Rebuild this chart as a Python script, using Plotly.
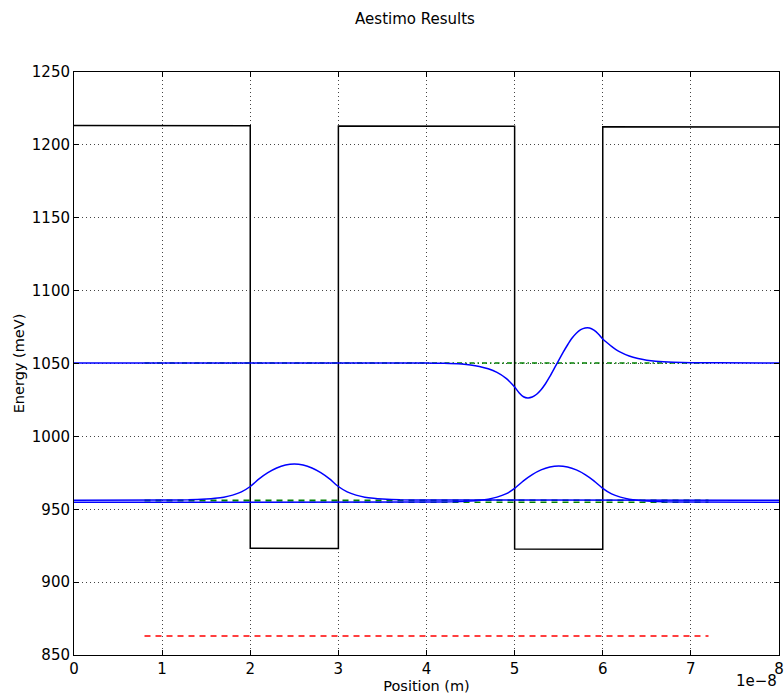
import plotly.graph_objects as go

# ---- data (positions in units of 1e-8 m, energies in meV) ----
pot_x = [0, 2, 2, 3, 3, 5, 5, 6, 6, 8]
pot_v = [1213.3, 1213.1, 923.2, 923.0, 1213.0, 1212.8, 922.7, 922.5, 1212.5, 1212.3]

wf1_x = [0, 1.0, 1.3, 1.5, 1.6, 1.7, 1.8, 1.9, 2.0, 2.1, 2.2, 2.3, 2.4, 2.5,
         2.6, 2.7, 2.8, 2.9, 3.0, 3.1, 3.2, 3.3, 3.4, 3.5, 3.7, 4.0, 8.0]
wf1_e = [956.2, 956.3, 956.5, 957.0, 957.5, 958.3, 959.7, 961.9, 965.6, 970.8,
         975.1, 978.3, 980.3, 981.0, 980.3, 978.3, 975.1, 970.8, 965.6, 961.9,
         959.7, 958.3, 957.5, 957.0, 956.5, 956.3, 956.2]

wf2_x = [0, 4.0, 4.3, 4.5, 4.6, 4.7, 4.8, 4.9, 5.0, 5.1, 5.2, 5.3, 5.4, 5.5,
         5.6, 5.7, 5.8, 5.9, 6.0, 6.1, 6.2, 6.3, 6.4, 6.5, 6.7, 7.0, 8.0]
wf2_e = [954.8, 954.9, 955.1, 955.6, 956.1, 956.9, 958.3, 960.5, 964.3, 969.5,
         973.8, 977.0, 979.0, 979.7, 979.0, 977.0, 973.8, 969.5, 964.3, 960.5,
         958.3, 956.9, 956.1, 955.6, 955.1, 954.9, 954.8]

wf3_x = [0, 4.0, 4.2, 4.4, 4.5, 4.6, 4.7, 4.8, 4.9, 4.95, 5.0, 5.05, 5.1, 5.15,
         5.2, 5.25, 5.3, 5.35, 5.4, 5.45, 5.5, 5.55, 5.6, 5.65, 5.7, 5.75, 5.8,
         5.85, 5.9, 5.95, 6.0, 6.05, 6.1, 6.15, 6.2, 6.3, 6.4, 6.5, 6.6, 6.8,
         7.0, 7.3, 8.0]
wf3_e = [1050.4, 1050.3, 1050.15, 1049.6, 1049.0, 1048.0, 1046.4, 1043.9, 1040.0,
         1037.2, 1033.9, 1030.0, 1027.2, 1026.4, 1027.0, 1028.9, 1032.0, 1036.1,
         1041.1, 1046.6, 1052.1, 1057.6, 1062.7, 1067.3, 1070.8, 1073.2, 1074.4,
         1074.4, 1072.9, 1070.3, 1066.8, 1064.2, 1061.7, 1059.6, 1057.8, 1055.1,
         1053.4, 1052.3, 1051.6, 1050.9, 1050.6, 1050.45, 1050.4]

levels = [956.2, 954.8, 1050.4]
level_dash = ["6px,5px", "6px,5px", "5px,3px,1.5px,3px"]
fermi = 863.0
hline_x = [0.8, 7.2]

x_ticks = [0, 1, 2, 3, 4, 5, 6, 7, 8]
y_ticks = [850, 900, 950, 1000, 1050, 1100, 1150, 1200, 1250]

SCALE = 1e-8
FONT = "DejaVu Sans"

fig = go.Figure()

for lv, dsh in zip(levels, level_dash):
    fig.add_trace(go.Scatter(x=[v * SCALE for v in hline_x], y=[lv, lv], mode="lines",
                             line=dict(color="#008000", width=1.5, dash=dsh),
                             hoverinfo="skip", showlegend=False))

fig.add_trace(go.Scatter(x=[v * SCALE for v in hline_x], y=[fermi, fermi], mode="lines",
                         line=dict(color="#ff0000", width=1.5, dash="6px,5px"),
                         showlegend=False))

fig.add_trace(go.Scatter(x=[v * SCALE for v in pot_x], y=pot_v, mode="lines",
                         line=dict(color="black", width=1.5), showlegend=False))

for wx, we in [(wf1_x, wf1_e), (wf2_x, wf2_e), (wf3_x, wf3_e)]:
    fig.add_trace(go.Scatter(x=[v * SCALE for v in wx], y=we, mode="lines",
                             line=dict(color="#0000ff", width=1.5, shape="spline", smoothing=0.5),
                             showlegend=False))

axis_common = dict(
    showline=True, linecolor="black", linewidth=1, mirror="ticks",
    ticks="inside", ticklen=5, tickcolor="black", tickwidth=1,
    showgrid=True, gridcolor="#444444", gridwidth=1, griddash="1px,3px",
    zeroline=False, automargin=False,
    tickfont=dict(family=FONT, size=15, color="black"),
)

fig.update_xaxes(range=[0, 8 * SCALE], tickvals=[t * SCALE for t in x_ticks],
                 ticktext=[str(t) for t in x_ticks],
                 title=dict(text="Position (m)", font=dict(family=FONT, size=14.5, color="black"), standoff=1),
                 **axis_common)
fig.update_yaxes(range=[850, 1250], tickvals=y_ticks, ticktext=[str(t) for t in y_ticks],
                 title=dict(text="Energy (meV)", font=dict(family=FONT, size=14.5, color="black"), standoff=3),
                 **axis_common)

fig.update_layout(
    width=784, height=696,
    margin=dict(l=74, r=5, t=72, b=41),
    paper_bgcolor="white", plot_bgcolor="white",
    title=dict(text="Aestimo Results", x=415 / 784, xanchor="center",
               y=1 - 19 / 696, yanchor="middle",
               font=dict(family=FONT, size=15, color="black")),
    annotations=[dict(text="1e\u22128", xref="paper", yref="paper", x=1.0, y=-(681 - 655) / 583,
                      xanchor="right", yanchor="middle", showarrow=False,
                      font=dict(family=FONT, size=15, color="black"))],
)

fig.write_html("out.html", config={"displayModeBar": False},
               post_script="document.body.style.margin='0px';document.body.style.overflow='hidden';")
